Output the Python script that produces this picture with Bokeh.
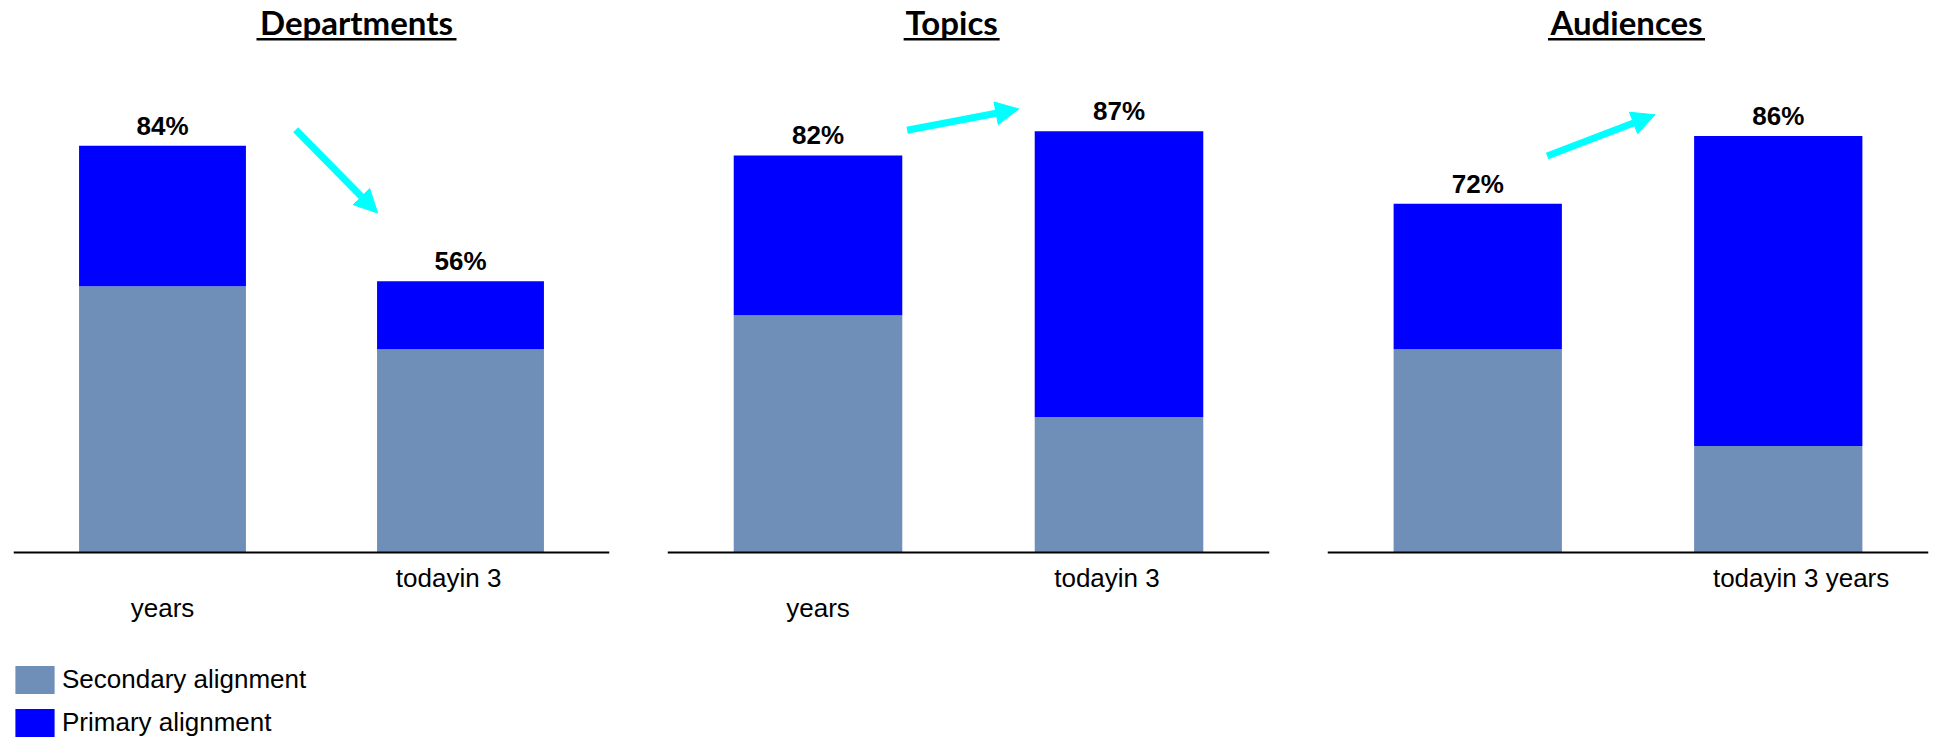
from bokeh.plotting import figure
from bokeh.layouts import row
from bokeh.models import (ColumnDataSource, Range1d, Legend, LegendItem,
                          Arrow, NormalHead, Span)
from bokeh.core.properties import value
from bokeh.embed import file_html
from bokeh.resources import INLINE

# ---- data -------------------------------------------------------------
panel_titles = ["Departments", "Topics", "Audiences"]
periods = ["today", "in 3 years"]
series_names = ["Secondary alignment", "Primary alignment"]

secondary_dept = [55, 42]
primary_dept = [29, 14]
secondary_topics = [49, 28]
primary_topics = [33, 59]
secondary_aud = [42, 22]
primary_aud = [30, 64]

# period labels as they are printed under each panel
period_labels_dept = ["\nyears", "todayin 3"]
period_labels_topics = ["\nyears", "todayin 3"]
period_labels_aud = ["", "todayin 3 years"]

# ---- styling / layout -------------------------------------------------
SEC_COLOR = "#6F8EB8"
PRI_COLOR = "#0000FF"
ARROW_COLOR = "#00FFFF"
PLOT_H = 742
Y_MAX = 114.0
Y_MIN = -39.24          # room under the baseline for labels and legend
BAR_W = 0.56

frame_widths = [596, 602, 601]
side_borders = [(13, 29), (29, 29), (29, 6)]
title_x = [1.151, 0.944, 0.995]
underline_px = [200, 96, 157]
TITLE_Y = 109.5
UNDERLINE_Y = 106.0
# horizontal nudge of each period label relative to its bar
label_shift = [[0.0, -0.04], [0.0, -0.04], [0.0, 0.076]]
LABEL_FIRST_LINE_PX = 25.6
LABEL_LINE_PX = 30

# trend arrows, (x_start, y_start, x_end, y_end) in each panel's space
trend_arrows = [
    (0.947, 87.3, 1.222, 70.1),
    (0.796, 87.2, 1.167, 91.6),
    (0.731, 81.9, 1.090, 90.4),
]

panels = [
    (secondary_dept, primary_dept, period_labels_dept),
    (secondary_topics, primary_topics, period_labels_topics),
    (secondary_aud, primary_aud, period_labels_aud),
]

figs = []
stack_renderers = None
for i, (sec, pri, labels) in enumerate(panels):
    left, right = side_borders[i]
    totals = [s + p for s, p in zip(sec, pri)]
    xpos = [k + 0.5 for k in range(len(periods))]
    src = ColumnDataSource(dict(
        x=xpos, period=periods, secondary=sec, primary=pri, total=totals,
        label=[f"{t}%" for t in totals],
    ))
    p = figure(
        x_range=Range1d(0, len(periods)),
        y_range=Range1d(Y_MIN, Y_MAX),
        width=left + frame_widths[i] + right, height=PLOT_H,
        output_backend="svg", toolbar_location=None,
        x_axis_location=None, y_axis_location=None,
        min_border_left=left, min_border_right=right,
        min_border_top=0, min_border_bottom=0,
    )
    p.outline_line_color = None
    p.xgrid.visible = False
    p.ygrid.visible = False

    rs = p.vbar_stack(["secondary", "primary"], x="x", width=BAR_W,
                      fill_color=[SEC_COLOR, PRI_COLOR], line_color=None,
                      source=src)
    if i == 0:
        stack_renderers = rs

    # baseline
    p.add_layout(Span(location=0, dimension="width", line_color="black",
                      line_width=2))

    # value labels above each stack
    p.text(x="x", y="total", text="label", source=src,
           text_font=value("Liberation Sans"), text_font_style="bold",
           text_font_size="26px", text_color="black", text_align="center",
           text_baseline="alphabetic", y_offset=-20)

    # period labels under the baseline, one text per printed line
    lx, ltxt, loff = [], [], []
    for k, lab in enumerate(labels):
        for j, line in enumerate(lab.split("\n")):
            if line:
                lx.append(xpos[k] + label_shift[i][k])
                ltxt.append(line)
                loff.append(LABEL_FIRST_LINE_PX + j * LABEL_LINE_PX)
    p.text(x=lx, y=[0] * len(lx), text=ltxt, y_offset=loff,
           text_font=value("Liberation Sans"), text_font_size="26px",
           text_color="black", text_align="center",
           text_baseline="alphabetic")

    # panel heading with underline
    p.text(x=[title_x[i]], y=[TITLE_Y], text=[panel_titles[i]],
           text_font=value("Lato"), text_font_style="bold",
           text_font_size="33px", text_color="black", text_align="center",
           text_baseline="alphabetic")
    p.rect(x=[title_x[i]], y=[UNDERLINE_Y], width=[underline_px[i]],
           height=[2.4], width_units="screen", height_units="screen",
           fill_color="black", line_color=None)

    xs, ys, xe, ye = trend_arrows[i]
    p.add_layout(Arrow(
        end=NormalHead(size=23, fill_color=ARROW_COLOR,
                       line_color=ARROW_COLOR, line_width=1),
        x_start=xs, y_start=ys, x_end=xe, y_end=ye,
        line_color=ARROW_COLOR, line_width=7,
    ))
    figs.append(p)

# legend swatches are drawn at 80% of the glyph box, so the box is sized up
legend = Legend(
    items=[LegendItem(label=series_names[0], renderers=[stack_renderers[0]]),
           LegendItem(label=series_names[1], renderers=[stack_renderers[1]])],
    location=(-3, 2.5), orientation="vertical",
    glyph_width=49, glyph_height=35, label_height=35, spacing=8,
    padding=0, margin=0, label_standoff=3,
    border_line_color=None, background_fill_alpha=0,
    label_text_font="Liberation Sans", label_text_font_size="26px",
    label_text_color="black",
)
figs[0].add_layout(legend)

layout = row(*figs, spacing=0)
open("out.html", "w").write(file_html(layout, INLINE))
